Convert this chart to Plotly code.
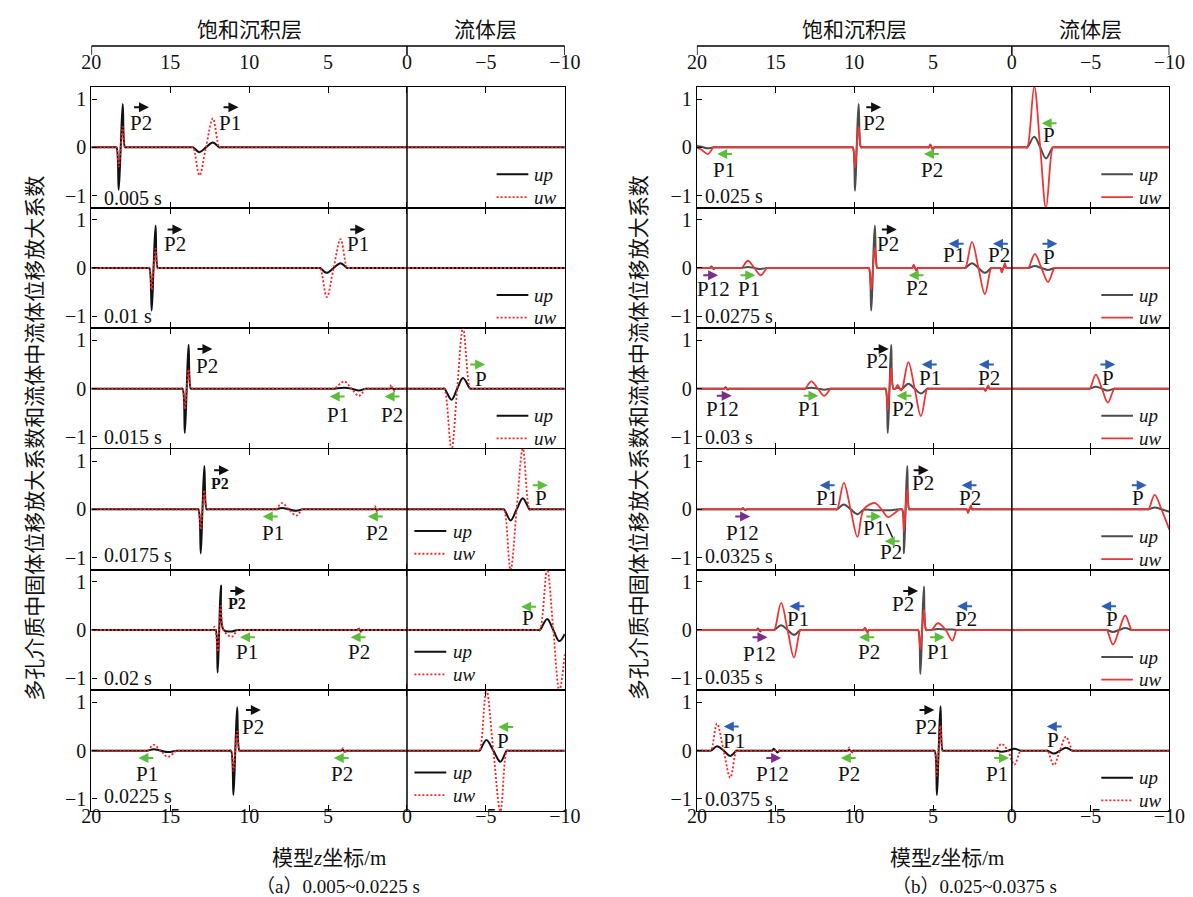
import plotly.graph_objects as go

W, H = 1193, 897

Z_TICKS = [20, 15, 10, 5, 0, -5, -10]
V_TICKS = [-1, 0, 1]

TIMES_A = ["0.005 s", "0.01 s", "0.015 s", "0.0175 s", "0.02 s", "0.0225 s"]
TIMES_B = ["0.025 s", "0.0275 s", "0.03 s", "0.0325 s", "0.035 s", "0.0375 s"]
TIME_V_A = [-1.04, -0.99, -1.0, -0.94, -1.0, -0.94]
TIME_V_B = [-1.0, -0.99, -1.0, -0.97, -0.98, -1.01]

LAYER_NAMES = ["饱和沉积层", "流体层"]
Y_TITLE = "多孔介质中固体位移放大系数和流体中流体位移放大系数"
X_TITLE = "模型<i>z</i>坐标/m"
CAPTIONS = ["（a）0.005~0.0225 s", "（b）0.025~0.0375 s"]
SERIES = ["up", "uw"]

# wave key points: (z, up, uw)
A1 = [(18.5, 0, 0), (18.41, 0, 0), (18.27, -0.88, -0.40), (18.14, 0, 0), (18.01, 0.90, 0.43), (17.87, 0, 0), (17.78, 0, 0),
      (13.65, 0, 0), (13.55, 0, 0), (13.15, -0.10, -0.58), (12.74, 0, 0), (12.30, 0.10, 0.60), (11.90, 0, 0), (11.80, 0, 0)]
A2 = [(16.42, 0, 0), (16.33, 0, 0), (16.18, -0.88, -0.45), (16.06, 0, 0), (15.93, 0.88, 0.40), (15.80, 0, 0), (15.72, 0, 0),
      (5.60, 0, 0), (5.50, 0, 0), (5.08, -0.10, -0.60), (4.65, 0, 0), (4.21, 0.10, 0.60), (3.80, 0, 0), (3.70, 0, 0)]
A3 = [(14.32, 0, 0), (14.22, 0, 0), (14.08, -0.92, -0.42), (13.96, 0, 0), (13.84, 0.91, 0.40), (13.70, 0, 0), (13.62, 0, 0),
      (4.70, 0, 0), (4.60, 0, 0), (3.98, 0.02, 0.15), (3.52, 0, 0), (3.05, -0.04, -0.15), (2.62, 0, 0), (2.52, 0, 0),
      (1.20, 0, 0), (1.10, 0, 0), (1.00, 0.01, 0.08), (0.90, 0, 0), (0.80, -0.01, -0.05), (0.70, 0, 0), (0.62, 0, 0),
      (-2.27, 0, 0), (-2.37, 0, 0), (-2.82, -0.23, -1.26), (-3.18, 0, 0), (-3.55, 0.22, 1.26), (-4.00, 0, 0), (-4.10, 0, 0)]
A4 = [(13.32, 0, 0), (13.22, 0, 0), (13.07, -0.91, -0.42), (12.96, 0, 0), (12.84, 0.90, 0.40), (12.70, 0, 0), (12.62, 0, 0),
      (8.40, 0, 0), (8.30, 0, 0), (7.92, 0.03, 0.13), (7.48, 0, 0), (7.02, -0.03, -0.13), (6.63, 0, 0), (6.53, 0, 0),
      (2.20, 0, 0), (2.12, 0, 0), (2.03, 0.01, 0.07), (1.96, 0, 0), (1.88, -0.01, -0.05), (1.80, 0, 0), (1.72, 0, 0),
      (-6.05, 0, 0), (-6.15, 0, 0), (-6.56, -0.23, -1.26), (-6.95, 0, 0), (-7.34, 0.23, 1.26), (-7.76, 0, 0), (-7.86, 0, 0)]
A5 = [(12.40, 0, 0), (12.30, 0, 0), (12.20, 0, 0.07), (12.12, 0, 0), (12.00, -0.88, -0.45), (11.90, 0, 0), (11.79, 0.92, 0.50),
      (11.62, 0, 0), (11.10, -0.03, -0.14), (10.75, 0, 0), (10.65, 0, 0),
      (3.25, 0, 0), (3.16, 0, 0), (3.07, 0.02, 0.05), (3.00, 0, 0), (2.92, -0.02, -0.04), (2.84, 0, 0), (2.76, 0, 0),
      (-8.30, 0, 0), (-8.42, 0, 0), (-8.88, 0.23, 1.26), (-9.27, 0, 0), (-9.65, -0.23, -1.26), (-10.0, -0.08, -0.50)]
A6 = [(16.55, 0, 0), (16.45, 0, 0), (16.05, 0.03, 0.12), (15.60, 0, 0), (15.15, -0.03, -0.13), (14.60, 0, 0), (14.50, 0, 0),
      (11.25, 0, 0), (11.15, 0, 0), (11.00, -0.92, -0.42), (10.88, 0, 0), (10.76, 0.90, 0.40), (10.62, 0, 0), (10.54, 0, 0),
      (4.25, 0, 0), (4.16, 0, 0), (4.07, 0.02, 0.05), (4.00, 0, 0), (3.92, -0.02, -0.05), (3.84, 0, 0), (3.76, 0, 0),
      (-4.50, 0, 0), (-4.60, 0, 0), (-5.03, 0.22, 1.26), (-5.47, 0, 0), (-5.92, -0.23, -1.26), (-6.32, 0, 0), (-6.42, 0, 0)]

B1 = [(20.0, 0.03, 0), (19.70, 0.01, -0.05), (19.30, -0.02, -0.14), (18.95, 0, 0), (18.85, 0, 0),
      (10.20, 0, 0), (10.10, 0, 0), (9.96, -0.90, -0.42), (9.85, 0, 0), (9.73, 0.90, 0.43), (9.58, 0, 0), (9.50, 0, 0),
      (5.35, 0, 0), (5.27, 0, 0), (5.18, 0.05, 0.06), (5.10, 0, 0), (5.01, -0.04, -0.05), (4.93, 0, 0), (4.85, 0, 0),
      (-0.88, 0, 0), (-0.98, 0, 0), (-1.42, 0.22, 1.26), (-1.80, 0, 0), (-2.17, -0.23, -1.26), (-2.60, 0, 0), (-2.70, 0, 0)]
B2 = [(19.25, 0, 0), (19.17, 0, 0), (19.08, 0.03, 0.01), (19.00, 0, 0), (18.92, -0.02, -0.01), (18.84, 0, 0), (18.76, 0, 0),
      (17.25, 0, 0), (17.15, 0, 0), (16.76, 0.02, 0.15), (16.35, 0, 0), (15.94, -0.02, -0.15), (15.55, 0, 0), (15.45, 0, 0),
      (9.18, 0, 0), (9.08, 0, 0), (8.93, -0.88, -0.45), (8.82, 0, 0), (8.70, 0.88, 0.42), (8.55, 0, 0), (8.47, 0, 0),
      (6.40, 0, 0), (6.32, 0, 0), (6.23, 0.04, 0.07), (6.15, 0, 0), (6.06, -0.04, -0.06), (5.98, 0, 0), (5.90, 0, 0),
      (3.05, 0, 0), (2.95, 0, 0), (2.53, 0.10, 0.54), (2.12, 0, 0), (1.71, -0.10, -0.54), (1.31, 0, 0), (1.21, 0, 0),
      (0.82, 0, 0), (0.74, 0, 0), (0.64, -0.03, -0.09), (0.54, 0, 0), (0.44, 0.03, 0.10), (0.34, 0, 0), (0.26, 0, 0),
      (-0.95, 0, 0), (-1.05, 0, 0), (-1.46, 0.04, 0.29), (-1.88, 0, 0), (-2.30, -0.04, -0.29), (-2.70, 0, 0), (-2.80, 0, 0)]
B3 = [(18.35, 0, 0), (18.27, 0, 0), (18.18, 0.03, 0.01), (18.10, 0, 0), (18.02, -0.02, 0), (17.94, 0, 0), (17.86, 0, 0),
      (13.23, 0, 0), (13.13, 0, 0), (12.73, 0.02, 0.15), (12.32, 0, 0), (11.91, -0.02, -0.15), (11.51, 0, 0), (11.41, 0, 0),
      (8.12, 0, 0), (8.02, 0, 0), (7.88, -0.92, -0.45), (7.77, 0, 0), (7.66, 0.91, 0.43), (7.52, 0, 0), (7.40, 0, 0),
      (7.25, 0.02, 0.08), (7.12, 0, 0), (7.03, -0.01, -0.04), (6.95, 0, 0), (6.57, 0.10, 0.55), (6.17, 0, 0),
      (5.77, -0.10, -0.57), (5.37, 0, 0), (5.27, 0, 0),
      (1.85, 0, 0), (1.77, 0, 0), (1.68, -0.03, -0.05), (1.60, 0, 0), (1.50, 0.03, 0.07), (1.42, 0, 0), (1.34, 0, 0),
      (-4.85, 0, 0), (-4.95, 0, 0), (-5.33, 0.04, 0.29), (-5.72, 0, 0), (-6.10, -0.04, -0.29), (-6.50, 0, 0), (-6.60, 0, 0)]
B4 = [(17.25, 0, 0), (17.17, 0, 0), (17.08, 0.03, 0.01), (17.00, 0, 0), (16.92, -0.02, 0), (16.84, 0, 0), (16.76, 0, 0),
      (11.20, 0, 0), (11.09, 0, 0), (10.67, 0.10, 0.55), (10.24, 0, 0), (9.80, -0.10, -0.57), (9.40, -0.01, 0),
      (8.70, -0.02, 0.13), (8.28, -0.02, 0), (7.85, -0.02, -0.16), (7.45, -0.01, -0.08), (7.12, 0, 0), (6.97, 0, 0),
      (6.85, -0.91, -0.45), (6.75, 0, 0), (6.64, 0.90, 0.41), (6.52, 0, 0), (6.44, 0, 0),
      (2.95, 0, 0), (2.87, 0, 0), (2.78, -0.04, -0.08), (2.70, 0, 0), (2.60, 0.04, 0.08), (2.52, 0, 0), (2.44, 0, 0),
      (-8.58, 0, 0), (-8.68, 0, 0), (-9.07, 0.04, 0.30), (-9.50, 0, 0), (-10.0, -0.05, -0.42)]
B5 = [(16.30, 0, 0), (16.22, 0, 0), (16.13, 0.03, 0.01), (16.05, 0, 0), (15.97, -0.03, 0), (15.89, 0, 0), (15.81, 0, 0),
      (15.18, 0, 0), (15.08, 0, 0), (14.65, 0.10, 0.56), (14.24, 0, 0), (13.83, -0.10, -0.57), (13.43, 0, 0), (13.33, 0, 0),
      (9.50, 0, 0), (9.42, 0, 0), (9.33, 0.03, 0.05), (9.25, 0, 0), (9.16, -0.03, -0.06), (9.08, 0, 0), (9.00, 0, 0),
      (6.05, 0, 0), (5.95, 0, 0), (5.81, -0.91, -0.40), (5.70, 0, 0), (5.58, 0.90, 0.42), (5.44, 0, 0), (5.30, 0, 0),
      (5.11, 0, 0), (4.69, 0.02, 0.14), (4.20, 0.01, 0), (3.77, 0.01, -0.22), (3.52, 0, 0), (3.42, 0, 0),
      (-5.93, 0, 0), (-6.03, 0, 0), (-6.42, -0.04, -0.30), (-6.81, 0, 0), (-7.20, 0.04, 0.30), (-7.60, 0, 0), (-7.70, 0, 0)]
B6 = [(19.20, 0, 0), (19.10, 0, 0), (18.72, 0.09, 0.56), (18.30, 0, 0), (17.88, -0.11, -0.56), (17.49, 0, 0), (17.39, 0, 0),
      (15.30, 0, 0), (15.22, 0, 0), (15.12, 0.04, 0.01), (15.00, 0, 0), (14.87, -0.04, -0.01), (14.78, 0, 0), (14.70, 0, 0),
      (10.50, 0, 0), (10.42, 0, 0), (10.33, 0.02, 0.07), (10.25, 0, 0), (10.16, -0.02, -0.05), (10.08, 0, 0), (10.00, 0, 0),
      (5.00, 0, 0), (4.90, 0, 0), (4.76, -0.92, -0.52), (4.65, 0, 0), (4.53, 0.92, 0.52), (4.39, 0, 0), (4.31, 0, 0),
      (1.15, 0, 0), (1.05, 0, 0), (0.66, -0.02, 0.14), (0.25, 0, 0), (-0.16, 0.04, -0.29), (-0.55, 0, 0), (-0.65, 0, 0),
      (-2.17, 0, 0), (-2.27, 0, 0), (-2.67, -0.06, -0.30), (-3.05, 0, 0), (-3.43, 0.06, 0.29), (-3.85, 0, 0), (-3.95, 0, 0)]

# wave labels: (text, z_text, v_text, z_arrow, v_arrow, direction, colour key)
LA1 = [("P2", 16.85, 0.50, 16.87, 0.83, "r", "k"), ("P1", 11.24, 0.50, 11.2, 0.83, "r", "k")]
LA2 = [("P2", 14.7, 0.50, 14.75, 0.80, "r", "k"), ("P1", 3.08, 0.50, 3.17, 0.80, "r", "k")]
LA3 = [("P2", 12.7, 0.48, 12.85, 0.82, "r", "k"), ("P1", 4.38, -0.54, 4.38, -0.16, "l", "g"),
       ("P2", 0.95, -0.54, 0.90, -0.16, "l", "g"), ("P", -4.69, 0.19, -4.43, 0.50, "r", "g")]
LA4 = [("<b>P2</b>", 11.83, 0.54, 11.8, 0.81, "r", "k"), ("P1", 8.52, -0.48, 8.62, -0.15, "l", "g"),
       ("P2", 1.89, -0.48, 1.96, -0.15, "l", "g"), ("P", -8.47, 0.24, -8.40, 0.50, "r", "g")]
LA5 = [("<b>P2</b>", 10.77, 0.54, 10.77, 0.81, "r", "k"), ("P1", 10.13, -0.46, 10.06, -0.15, "l", "g"),
       ("P2", 3.03, -0.46, 3.05, -0.15, "l", "g"), ("P", -7.64, 0.24, -7.75, 0.48, "l", "g")]
LA6 = [("P2", 9.78, 0.49, 9.78, 0.84, "r", "k"), ("P1", 16.5, -0.49, 16.5, -0.15, "l", "g"),
       ("P2", 4.12, -0.49, 4.12, -0.15, "l", "g"), ("P", -6.1, 0.21, -6.3, 0.49, "l", "g")]

LB1 = [("P2", 8.75, 0.50, 8.82, 0.83, "r", "k"), ("P1", 18.29, -0.47, 18.19, -0.14, "l", "g"),
       ("P2", 5.04, -0.47, 5.06, -0.14, "l", "g"), ("P", -2.39, 0.26, -2.41, 0.50, "l", "g")]
LB2 = [("P12", 18.94, -0.44, 19.17, -0.15, "r", "p"), ("P1", 16.72, -0.44, 16.81, -0.15, "r", "g"),
       ("P2", 7.85, 0.50, 7.83, 0.80, "r", "k"), ("P2", 6.0, -0.42, 6.03, -0.15, "l", "g"),
       ("P1", 3.7, 0.26, 3.49, 0.50, "l", "b"), ("P2", 0.84, 0.26, 0.68, 0.50, "l", "b"),
       ("P", -2.34, 0.22, -2.37, 0.50, "r", "b")]
LB3 = [("P12", 18.4, -0.43, 18.31, -0.145, "r", "p"), ("P1", 12.85, -0.43, 12.8, -0.145, "r", "g"),
       ("P2", 8.56, 0.57, 8.34, 0.82, "r", "k"), ("P2", 6.92, -0.43, 6.8, -0.145, "l", "g"),
       ("P1", 5.18, 0.23, 5.2, 0.50, "l", "b"), ("P2", 1.48, 0.23, 1.57, 0.50, "l", "b"),
       ("P", -6.1, 0.22, -6.05, 0.50, "r", "b")]
LB4 = [("P12", 17.12, -0.50, 17.14, -0.15, "r", "p"), ("P1", 11.72, 0.24, 11.68, 0.50, "l", "b"),
       ("P1", 8.75, -0.39, 8.82, -0.15, "r", "g"), ("P2", 7.69, -0.88, 7.55, -0.66, "l", "g"),
       ("P2", 5.65, 0.54, 5.81, 0.81, "r", "k"), ("P2", 2.65, 0.24, 2.67, 0.50, "l", "b"),
       ("P", -8.02, 0.24, -8.04, 0.50, "r", "b")]
LB5 = [("P12", 16.01, -0.50, 16.04, -0.15, "r", "p"), ("P1", 13.55, 0.23, 13.6, 0.49, "l", "b"),
       ("P2", 9.1, -0.45, 9.17, -0.15, "l", "g"), ("P2", 6.92, 0.54, 6.47, 0.81, "r", "k"),
       ("P1", 4.71, -0.45, 4.78, -0.15, "r", "g"), ("P2", 2.88, 0.23, 2.95, 0.49, "l", "b"),
       ("P", -6.33, 0.23, -6.19, 0.49, "l", "b")]
LB6 = [("P1", 17.66, 0.20, 17.77, 0.50, "l", "b"), ("P12", 15.19, -0.49, 15.17, -0.15, "r", "p"),
       ("P2", 10.34, -0.49, 10.34, -0.15, "l", "g"), ("P2", 5.46, 0.50, 5.44, 0.84, "r", "k"),
       ("P1", 0.94, -0.49, 0.70, -0.15, "r", "g"), ("P", -2.63, 0.23, -2.74, 0.50, "l", "b")]

# leader line in the 0.0325 s row: (z0, v0, z1, v1)
LEADER_B4 = (7.97, -0.30, 7.57, -0.59)

WAVES = [[A1, A2, A3, A4, A5, A6], [B1, B2, B3, B4, B5, B6]]
LABELS = [[LA1, LA2, LA3, LA4, LA5, LA6], [LB1, LB2, LB3, LB4, LB5, LB6]]
TIMES = [TIMES_A, TIMES_B]
TIME_V = [TIME_V_A, TIME_V_B]

# ---------------- styling / layout ----------------
FONT = "Liberation Serif, Noto Sans CJK SC"
COL = {"k": "#111111", "g": "#5cbd3c", "b": "#2d5fb5", "p": "#7b2c8c"}
X_DOM = [[75 / W, 559 / W], [694 / W, 1177 / W]]
TOP_PX, BOT_PX = 79, 803
ROW_H = (BOT_PX - TOP_PX) / 6
LW = 1.3
NB = "\u00a0"

fig = go.Figure()
shapes, anns = [], []
layout = {}

for p in range(2):
    for r in range(6):
        n = p * 6 + r + 1
        xa = "x" if n == 1 else f"x{n}"
        ya = "y" if n == 1 else f"y{n}"
        top = TOP_PX + r * ROW_H
        bot = top + ROW_H
        classic = (p == 0) or (r == 5)

        xkey = "xaxis" if n == 1 else f"xaxis{n}"
        ykey = "yaxis" if n == 1 else f"yaxis{n}"
        xaxis = dict(domain=X_DOM[p], anchor=ya, range=[20, -10], tickvals=Z_TICKS,
                     ticks="inside", ticklen=6, tickwidth=1.3, tickcolor="black",
                     showline=True, linecolor="black", linewidth=LW, mirror="ticks",
                     showgrid=False, zeroline=False,
                     tickfont=dict(family=FONT, size=20, color="#111"),
                     showticklabels=(r == 0))
        if r == 0:
            xaxis.update(side="top", ticklabelstandoff=9)
        layout[xkey] = xaxis
        layout[ykey] = dict(domain=[1 - bot / H, 1 - top / H], anchor=xa, range=[-1.25, 1.25],
                            tickvals=V_TICKS, ticks="inside", ticklen=5, tickwidth=1.3, tickcolor="black",
                            showline=True, linecolor="black", linewidth=LW, mirror=True,
                            showgrid=False, zeroline=False, ticksuffix=NB + NB,
                            tickfont=dict(family=FONT, size=20, color="#111"))

        pts = list(WAVES[p][r])
        if pts[0][0] < 20:
            pts.insert(0, (20, 0, 0))
        if pts[-1][0] > -10:
            pts.append((-10, 0, 0))
        z = [q[0] for q in pts]
        up = [q[1] for q in pts]
        uw = [q[2] for q in pts]

        up_col = "#111111" if classic else "#4d4d4d"
        uw_dash = "2px,2px" if classic else "solid"
        uw_col = "#ff2424" if classic else "#ee3535"
        fig.add_trace(go.Scatter(x=z, y=up, xaxis=xa, yaxis=ya, mode="lines", name=SERIES[0],
                                 line=dict(color=up_col, width=2, shape="spline", smoothing=1),
                                 showlegend=False, hoverinfo="skip"))
        fig.add_trace(go.Scatter(x=z, y=uw, xaxis=xa, yaxis=ya, mode="lines", name=SERIES[1],
                                 line=dict(color=uw_col, width=1.8, dash=uw_dash, shape="spline", smoothing=1),
                                 showlegend=False, hoverinfo="skip"))

        shapes.append(dict(type="line", xref=xa, yref=f"{ya} domain", x0=0, x1=0, y0=0, y1=1,
                           line=dict(color="black", width=1.5)))

        anns.append(dict(x=19.3 if p == 0 else 19.6, y=TIME_V[p][r], xref=xa, yref=ya, text=TIMES[p][r],
                         showarrow=False, xanchor="left", yanchor="middle",
                         font=dict(family=FONT, size=20, color="#111")))

        if p == 0 and r >= 3:
            lx0, lx1, tx, vu, vw = -0.47, -2.49, -2.8, -0.45, -0.92
        else:
            lx0, lx1, tx, vu, vw = -5.68, -7.69, -7.95, -0.56, -1.03
        shapes.append(dict(type="line", xref=xa, yref=ya, x0=lx0, x1=lx1, y0=vu, y1=vu,
                           line=dict(color=up_col, width=2)))
        shapes.append(dict(type="line", xref=xa, yref=ya, x0=lx0, x1=lx1, y0=vw, y1=vw,
                           line=dict(color=uw_col, width=1.8, dash=uw_dash)))
        for txt, vv in ((SERIES[0], vu), (SERIES[1], vw)):
            anns.append(dict(x=tx, y=vv, xref=xa, yref=ya, text=f"<i>{txt}</i>", showarrow=False,
                             xanchor="left", yanchor="middle", font=dict(family=FONT, size=19, color="#111")))

        for (txt, zt, vt, za, va, d, c) in LABELS[p][r]:
            size = 16 if txt.startswith("<b>") else 21
            anns.append(dict(x=zt, y=vt, xref=xa, yref=ya, text=txt, showarrow=False,
                             xanchor="center", yanchor="middle", font=dict(family=FONT, size=size, color="#111")))
            half = 0.52
            head, tail = (za - half, za + half) if d == "r" else (za + half, za - half)
            anns.append(dict(x=head, y=va, ax=tail, ay=va, xref=xa, yref=ya, axref=xa, ayref=ya,
                             text="", showarrow=True, arrowhead=2, arrowsize=1, arrowwidth=2,
                             arrowcolor=COL[c], standoff=0, startstandoff=0))
        if p == 1 and r == 3:
            z0, v0, z1, v1 = LEADER_B4
            shapes.append(dict(type="line", xref=xa, yref=ya, x0=z0, y0=v0, x1=z1, y1=v1,
                               line=dict(color="#111", width=1.5)))

    # bottom tick labels on a free axis placed slightly above the bottom edge
    nb = 12 + p + 1
    base_y = "y6" if p == 0 else "y12"
    layout[f"xaxis{nb}"] = dict(domain=X_DOM[p], anchor="free", overlaying=("x6" if p == 0 else "x12"),
                                position=1 - (BOT_PX - 9) / H, side="bottom", range=[20, -10],
                                tickvals=Z_TICKS, ticks="", showline=False, showgrid=False, zeroline=False,
                                tickfont=dict(family=FONT, size=20, color="#111"))
    fig.add_trace(go.Scatter(x=[None], y=[None], xaxis=f"x{nb}", yaxis=base_y, mode="lines",
                             showlegend=False, hoverinfo="skip"))

    xa0 = "x" if p == 0 else "x7"
    yb, yt = 1 - 38 / H, 1 - 47 / H
    shapes.append(dict(type="line", xref=xa0, yref="paper", x0=20, x1=-10, y0=yb, y1=yb,
                       line=dict(color="black", width=1.5)))
    for zz in (20, 0, -10):
        shapes.append(dict(type="line", xref=xa0, yref="paper", x0=zz, x1=zz, y0=yb, y1=yt,
                           line=dict(color="black", width=1.5)))
    for name, zc in zip(LAYER_NAMES, (10, -5)):
        anns.append(dict(x=zc, y=1 - 22 / H, xref=xa0, yref="paper", text=name, showarrow=False,
                         xanchor="center", yanchor="middle", font=dict(family=FONT, size=21, color="#111")))
    anns.append(dict(x=(17 if p == 0 else 635) / W, y=1 - 430 / H, xref="paper", yref="paper", text=Y_TITLE,
                     textangle=-90, showarrow=False, xanchor="center", yanchor="middle",
                     font=dict(family=FONT, size=21, color="#111")))
    anns.append(dict(x=(318 if p == 0 else 950) / W, y=1 - 850 / H, xref="paper", yref="paper", text=X_TITLE,
                     showarrow=False, xanchor="center", yanchor="middle",
                     font=dict(family=FONT, size=21, color="#111")))
    anns.append(dict(x=(327 if p == 0 else 978) / W, y=6 / H, xref="paper", yref="paper", text=CAPTIONS[p],
                     showarrow=False, xanchor="center", yanchor="bottom",
                     font=dict(family=FONT, size=19, color="#111")))

fig.update_layout(width=W, height=H, margin=dict(l=0, r=0, t=0, b=0),
                  paper_bgcolor="white", plot_bgcolor="white",
                  shapes=shapes, annotations=anns, showlegend=False, **layout)
fig.write_html("out.html")
